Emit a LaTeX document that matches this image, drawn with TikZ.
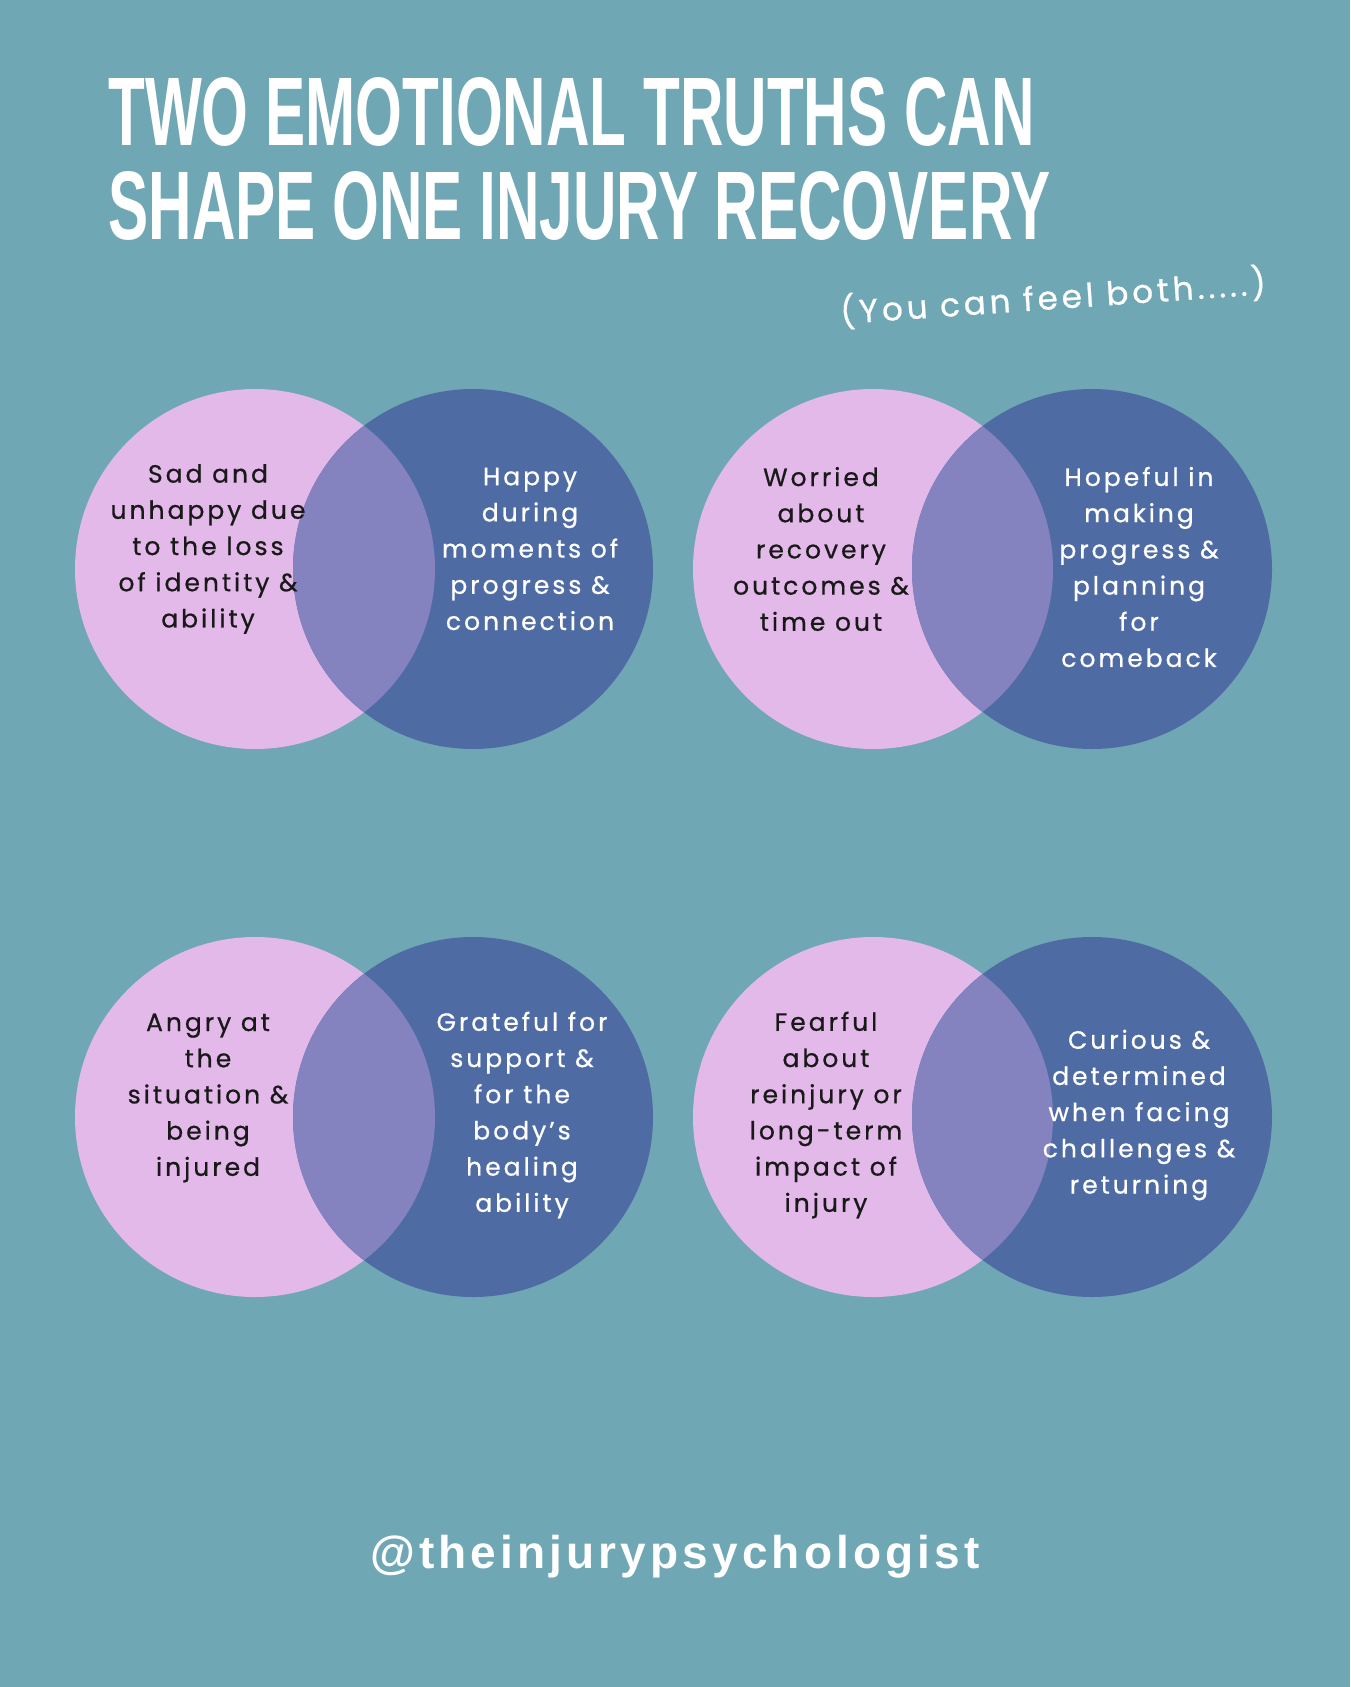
\documentclass[tikz,border=0pt]{standalone}
\usepackage{fontspec}
\usepackage{graphicx}
\setmainfont{Liberation Sans}
\newfontfamily\handfont[LetterSpace=12,FakeBold=0.7]{Poppins}
\newfontfamily\tagfont[LetterSpace=9]{Liberation Sans}
\definecolor{bgteal}{HTML}{6FA7B5}
\definecolor{lilac}{HTML}{E3B9E9}
\definecolor{navy}{HTML}{4F6BA4}
\definecolor{mixed}{HTML}{8482BF}

\begin{document}
\begin{tikzpicture}[x=0.5pt, y=-0.5pt,
    hand/.style={font=\handfont\fontsize{12.5}{18.1}\selectfont, align=center, inner sep=0pt},
    darktext/.style={hand, text=black!90},
    lighttext/.style={hand, text=white}]
    \fill[bgteal] (0,0) rectangle (1350,1687);
    \useasboundingbox (0,0) rectangle (1350,1687);
    % circle centres: P = pink, B = blue
    \coordinate (P1) at (255,569);
    \coordinate (B1) at (473,569);
    \coordinate (P2) at (873,569);
    \coordinate (B2) at (1092,569);
    \coordinate (P3) at (255,1117);
    \coordinate (B3) at (473,1117);
    \coordinate (P4) at (873,1117);
    \coordinate (B4) at (1092,1117);
    \foreach \p/\b in {P1/B1,P2/B2,P3/B3,P4/B4} {
      \fill[lilac] (\p) circle[radius=90pt];
      \fill[navy] (\b) circle[radius=90pt];
      \begin{scope}
        \clip (\p) circle[radius=90pt];
        \fill[mixed] (\b) circle[radius=90pt];
      \end{scope}
    }
    % heading
    \node[anchor=base west, inner sep=0pt, text=white] (title1) at (108,145)
      {\resizebox{463pt}{34pt}{\bfseries TWO EMOTIONAL TRUTHS CAN}};
    \node[anchor=base west, inner sep=0pt, text=white] (title2) at (108,239)
      {\resizebox{471pt}{34pt}{\bfseries SHAPE ONE INJURY RECOVERY}};
    \node[lighttext, font=\handfont\fontsize{16.3}{18}\selectfont, rotate=4] (both) at (1053,297)
      {(You can feel both.....)};
    % the eight feelings
    \node[darktext] (sad) at (208,549) {Sad and\\unhappy due\\to the loss\\of identity \&\\ability};
    \node[lighttext] (happy) at (530,549) {Happy\\during\\moments of\\progress \&\\connection};
    \node[darktext] (worried) at (821,549) {Worried\\about\\recovery\\outcomes \&\\time out};
    \node[lighttext] (hopeful) at (1139,567) {Hopeful in\\making\\progress \&\\planning\\for\\comeback};
    \node[darktext] (angry) at (208,1098) {Angry at\\the\\situation \&\\being\\injured};
    \node[lighttext] (grateful) at (522,1115) {Grateful for\\support \&\\for the\\body’s\\healing\\ability};
    \node[darktext] (fearful) at (826,1115) {Fearful\\about\\reinjury or\\long-term\\impact of\\injury};
    \node[lighttext] (curious) at (1139,1115) {Curious \&\\determined\\when facing\\challenges \&\\returning};
    % handle
    \node[text=white, font=\tagfont\bfseries\fontsize{23}{28}\selectfont, anchor=base] (handle) at (675,1568)
      {@theinjurypsychologist};
\end{tikzpicture}
\end{document}
